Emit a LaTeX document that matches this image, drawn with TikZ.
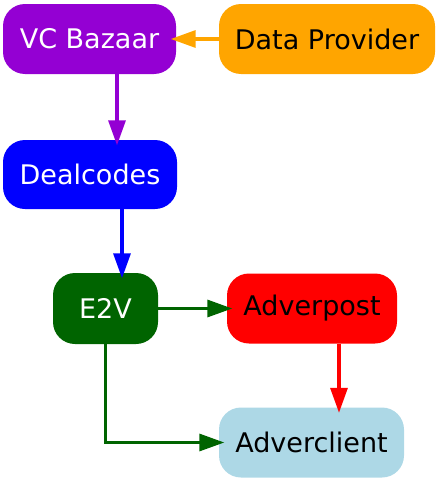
\documentclass[tikz,border=0pt]{standalone}
\usepackage{fontspec}
\setmainfont{DejaVu Sans}
\usetikzlibrary{arrows.meta}
\definecolor{cviolet}{HTML}{9400D3}
\definecolor{corange}{HTML}{FFA500}
\definecolor{cblue}{HTML}{0000FF}
\definecolor{cgreen}{HTML}{006400}
\definecolor{cred}{HTML}{FF0000}
\definecolor{clblue}{HTML}{ADD8E6}
\tikzset{
  box/.style={rounded corners=22pt, inner sep=0pt, minimum height=70pt,
    font=\fontsize{27}{31}\selectfont, anchor=center},
  conn/.style={line width=3.2pt, -{Triangle[length=25pt,width=17pt]}, shorten >=-5.5pt}
}
\begin{document}
\begin{tikzpicture}[x=1pt,y=-1pt]
\useasboundingbox (0,0) rectangle (436,479);
\node[box, fill=cviolet, text=white, minimum width=173pt] (vc) at (89.5,39) {VC Bazaar};
\node[box, fill=corange, text=black, minimum width=216pt] (dp) at (327,39) {Data Provider};
\node[box, fill=cblue, text=white, minimum width=174pt, minimum height=69pt] (dc) at (90,174.5) {Dealcodes};
\node[box, fill=cgreen, text=white, minimum width=105pt, minimum height=71pt] (e2v) at (105.5,308.5) {E2V};
\node[box, fill=cred, text=black, minimum width=170pt, minimum height=70pt] (ap) at (312,308.5) {Adverpost};
\node[box, fill=clblue, text=black, minimum width=185pt, minimum height=70pt] (ac) at (311.5,442.5) {Adverclient};

\draw[conn, corange] (dp.west) -- (vc.east);
\draw[conn, cviolet] ([xshift=27.5pt]vc.south) -- ([xshift=27pt]dc.north);
\draw[conn, cblue] ([xshift=32pt]dc.south) -- ([xshift=16.5pt]e2v.north);
\draw[conn, cgreen] (e2v.east) -- (ap.west);
\draw[conn, cred] ([xshift=27pt]ap.south) -- ([xshift=27.5pt]ac.north);
\draw[conn, cgreen] (e2v.south) |- (ac.west);
\end{tikzpicture}
\end{document}
